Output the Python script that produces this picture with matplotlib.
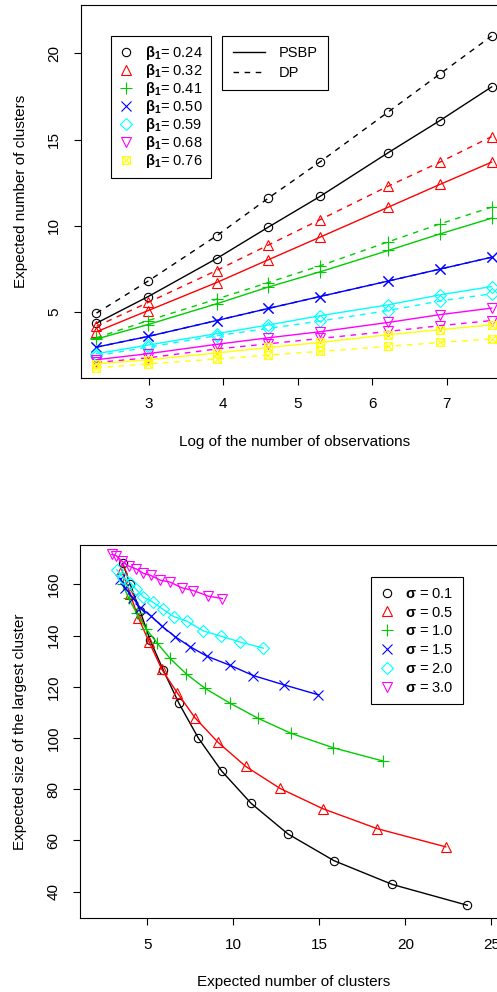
import numpy as np
import matplotlib
matplotlib.use("Agg")
from matplotlib import pyplot as plt
from matplotlib.path import Path
from matplotlib.lines import Line2D

plt.rcParams['font.family'] = ['Liberation Sans', 'DejaVu Sans']
plt.rcParams['mathtext.fontset'] = 'custom'
plt.rcParams['mathtext.bf'] = 'Liberation Sans:bold'
plt.rcParams['mathtext.rm'] = 'Liberation Sans'

# ---- top panel data ----
n_obs = [10, 20, 50, 100, 200, 500, 1000, 2000]
beta1 = ["0.24", "0.32", "0.41", "0.50", "0.59", "0.68", "0.76"]
psbp = [
    [4.36, 5.90, 8.10, 9.92, 11.70, 14.24, 16.10, 18.05],
    [3.86, 5.09, 6.71, 8.03, 9.34, 11.08, 12.40, 13.69],
    [3.44, 4.28, 5.48, 6.45, 7.33, 8.57, 9.53, 10.44],
    [2.97, 3.59, 4.51, 5.21, 5.90, 6.80, 7.49, 8.18],
    [2.59, 3.09, 3.75, 4.25, 4.79, 5.42, 6.00, 6.48],
    [2.24, 2.59, 3.13, 3.51, 3.86, 4.40, 4.85, 5.23],
    [2.00, 2.24, 2.63, 2.95, 3.24, 3.69, 3.98, 4.26],
]
dp = [
    [4.94, 6.80, 9.42, 11.60, 13.70, 16.60, 18.80, 21.00],
    [4.17, 5.56, 7.41, 8.88, 10.35, 12.30, 13.69, 15.17],
    [3.51, 4.51, 5.75, 6.71, 7.68, 9.07, 10.11, 11.08],
    [2.97, 3.59, 4.51, 5.21, 5.90, 6.80, 7.49, 8.18],
    [2.47, 2.97, 3.63, 4.05, 4.48, 5.09, 5.64, 6.06],
    [2.08, 2.35, 2.86, 3.16, 3.47, 3.88, 4.21, 4.51],
    [1.77, 2.00, 2.28, 2.51, 2.72, 3.01, 3.24, 3.44],
]

# ---- bottom panel data ----
sigma = ["0.1", "0.5", "1.0", "1.5", "2.0", "3.0"]
clus_x = [
    [3.57, 4.00, 4.58, 5.16, 5.93, 6.84, 7.95, 9.32, 11.03, 13.16, 15.85, 19.25, 23.60],
    [3.50, 4.00, 4.48, 5.10, 5.84, 6.73, 7.77, 9.11, 10.72, 12.72, 15.20, 18.37, 22.35],
    [3.57, 3.90, 4.38, 4.92, 5.55, 6.32, 7.25, 8.35, 9.81, 11.44, 13.37, 15.81, 18.72],
    [3.41, 3.70, 4.15, 4.58, 5.20, 5.84, 6.61, 7.48, 8.45, 9.81, 11.16, 12.93, 14.94],
    [3.22, 3.60, 4.00, 4.34, 4.77, 5.31, 5.90, 6.55, 7.29, 8.26, 9.28, 10.39, 11.74],
    [2.93, 3.18, 3.51, 3.90, 4.34, 4.77, 5.20, 5.74, 6.32, 7.00, 7.67, 8.55, 9.36],
]
largest = [
    [168.2, 160.0, 149.5, 138.2, 126.4, 113.5, 100.1, 87.1, 74.5, 62.6, 52.1, 42.8, 34.7],
    [166.0, 156.1, 146.9, 137.5, 126.8, 117.7, 107.9, 98.3, 88.9, 80.3, 72.4, 64.6, 57.5],
    [160.0, 154.7, 148.7, 142.7, 137.2, 131.1, 125.1, 119.4, 113.6, 107.7, 101.8, 96.2, 91.0],
    [162.3, 158.7, 154.8, 150.9, 147.7, 143.7, 139.6, 135.7, 132.0, 128.4, 124.4, 120.8, 116.9],
    [165.7, 162.7, 160.7, 158.1, 155.1, 153.1, 150.3, 147.4, 145.7, 141.8, 139.8, 137.5, 135.1],
    [171.7, 171.3, 169.1, 167.2, 166.1, 164.3, 163.5, 161.7, 160.9, 158.7, 157.6, 155.4, 154.5],
]

cols = ['black', '#FF0000', '#00CD00', '#0000FF', '#00FFFF', '#FF00FF', '#FFFF00']

# square with a cross, like R pch 7
boxx = Path([(-1, -1), (1, -1), (1, 1), (-1, 1), (-1, -1), (-1, -1), (1, 1), (-1, 1), (1, -1)],
            [Path.MOVETO, Path.LINETO, Path.LINETO, Path.LINETO, Path.CLOSEPOLY,
             Path.MOVETO, Path.LINETO, Path.MOVETO, Path.LINETO])
marks = ['o', '^', '+', 'x', 'D', 'v', boxx]
msize = [6, 7.5, 8, 6.5, 6.5, 7.5, 5.5]

FS = 11
LFS = 10.5

def style(ax):
    for s in ax.spines.values():
        s.set_linewidth(0.8)
    ax.tick_params(direction='out', length=5, width=0.8, labelsize=FS, pad=9)
    ax.tick_params(axis='y', pad=9)
    for t in ax.get_yticklabels():
        t.set_rotation(90)
        t.set_va('center')

def box_legend(ax, h, lab, anchor, **kw):
    leg = ax.legend(h, lab, loc='upper left', bbox_to_anchor=anchor, fontsize=LFS,
                    frameon=True, fancybox=False, edgecolor='black', framealpha=1,
                    borderaxespad=0, **kw)
    leg.get_frame().set_linewidth(0.8)
    return leg

fig = plt.figure(figsize=(4.97, 9.92), dpi=100)

# ---------------- top ----------------
ax1 = fig.add_axes([0.1624, 0.6193, 0.8586, 0.3757])
x = np.log(n_obs)
for i in range(7):
    mk = dict(marker=marks[i], markersize=msize[i], mfc='none', mec=cols[i], mew=0.8)
    ax1.plot(x, psbp[i], color=cols[i], lw=1.0, ls='-', **mk)
    ax1.plot(x, dp[i], color=cols[i], lw=1.0, ls=(0, (4, 4)), **mk)
ax1.set_xlim(2.091, 7.813)
ax1.set_ylim(1.2, 22.8)
ax1.set_xticks([3, 4, 5, 6, 7])
ax1.set_yticks([5, 10, 15, 20])
style(ax1)
ax1.set_xlabel("Log of the number of observations", fontsize=FS, labelpad=17)
ax1.set_ylabel("Expected number of clusters", fontsize=FS, labelpad=14)

h1 = [Line2D([], [], ls='none', marker=marks[i], markersize=msize[i], mfc='none',
             mec=cols[i], mew=0.8) for i in range(7)]
lab1 = [r"$\mathbf{\beta_1}$= " + b for b in beta1]
leg1 = box_legend(ax1, h1, lab1, (0.0703, 0.9168), borderpad=0.55, labelspacing=0.0,
                  handlelength=1.0, handletextpad=0.8)
ax1.add_artist(leg1)
h2 = [Line2D([], [], color='black', lw=1.0, ls='-'),
      Line2D([], [], color='black', lw=1.0, ls=(0, (4, 4)))]
box_legend(ax1, h2, ["PSBP", "DP"], (0.3318, 0.9168), borderpad=0.7, labelspacing=0.4,
           handlelength=2.2, handletextpad=1.0)

# ---------------- bottom ----------------
ax2 = fig.add_axes([0.161, 0.0743, 0.8594, 0.3763])
for i in range(6):
    ax2.plot(clus_x[i], largest[i], color=cols[i], lw=1.0, marker=marks[i],
             markersize=msize[i], mfc='none', mec=cols[i], mew=0.8)
ax2.set_xlim(1.08, 25.92)
ax2.set_ylim(29.6, 175.4)
ax2.set_xticks([5, 10, 15, 20, 25])
ax2.set_yticks([40, 60, 80, 100, 120, 140, 160])
style(ax2)
ax2.set_xlabel("Expected number of clusters", fontsize=FS, labelpad=17)
ax2.set_ylabel("Expected size of the largest cluster", fontsize=FS, labelpad=14)

h3 = [Line2D([], [], ls='none', marker=marks[i], markersize=msize[i], mfc='none',
             mec=cols[i], mew=0.8) for i in range(6)]
lab3 = [r"$\mathbf{\sigma}$ = " + s for s in sigma]
box_legend(ax2, h3, lab3, (0.6806, 0.9135), borderpad=0.65, labelspacing=0.33,
           handlelength=1.0, handletextpad=0.7)

fig.savefig("out.png", dpi=100)
